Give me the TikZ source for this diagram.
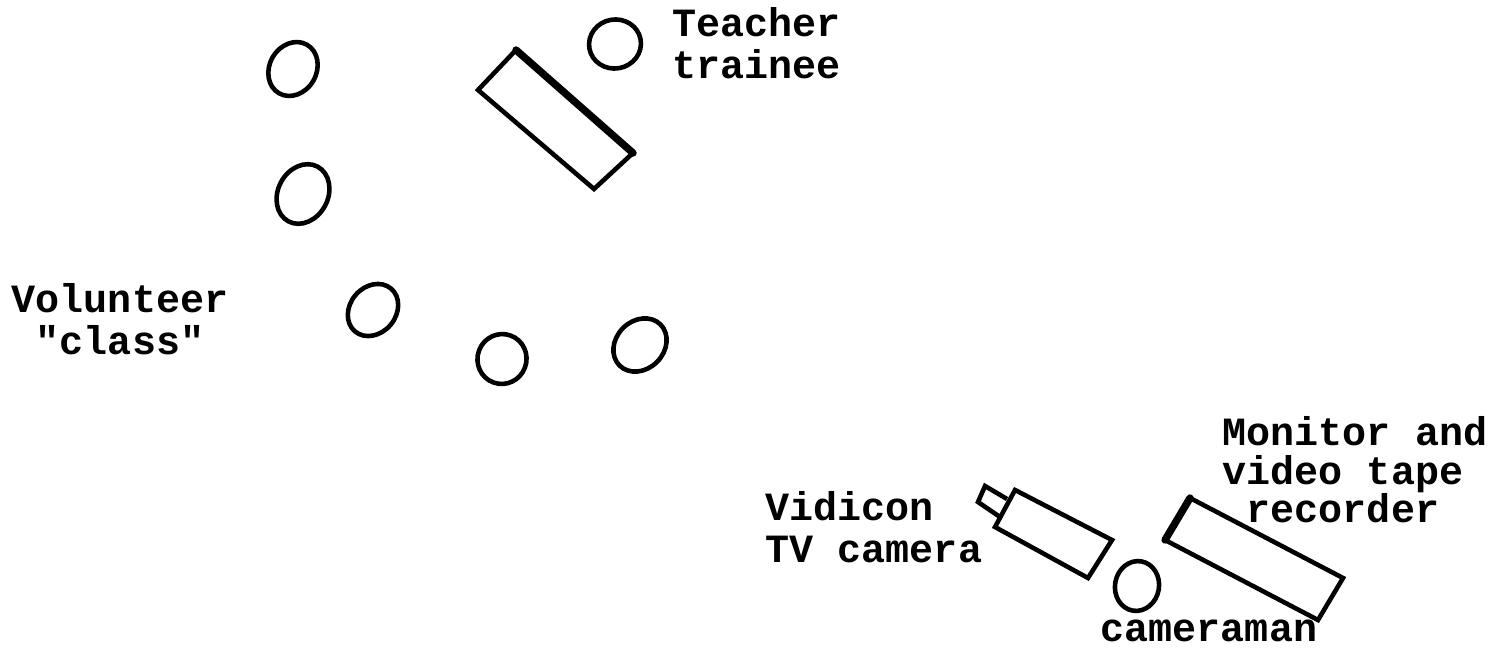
\documentclass[tikz,border=0pt]{standalone}
\usepackage{fontspec}
\setmonofont{Liberation Mono}
\usetikzlibrary{shapes.geometric, positioning}

\begin{document}
\begin{tikzpicture}[
    person/.style={
        draw, ellipse, line width=1.3pt,
        inner sep=0pt,
    },
    furniture/.style={
        draw, line width=1.3pt, line join=miter,
    },
    heavy/.style={
        draw, line width=2.1pt, line cap=round,
    },
    caption/.style={
        font=\fontsize{11.4pt}{11.9pt}\selectfont\ttfamily\bfseries,
        inner sep=0pt,
    },
]
\useasboundingbox (0,0) rectangle (15.02,6.52);

%--- Volunteer class and teacher ---
\node[person, minimum width=0.56cm, minimum height=0.47cm, rotate=60] (pupilA) at (2.93,5.83) {};
\node[person, minimum width=0.62cm, minimum height=0.50cm, rotate=62] (pupilB) at (3.03,4.58) {};
\node[person, minimum width=0.56cm, minimum height=0.46cm, rotate=50] (pupilC) at (3.73,3.42) {};
\node[person, minimum width=0.50cm, minimum height=0.49cm, rotate=70] (pupilD) at (5.02,2.93) {};
\node[person, minimum width=0.58cm, minimum height=0.48cm, rotate=45] (pupilE) at (6.40,3.07) {};
\node[person, minimum width=0.52cm, minimum height=0.49cm, rotate=10] (teacher) at (6.15,6.08) {};

% table in front of the teacher
\draw[furniture] (5.16,6.02) -- (4.78,5.62) -- (5.94,4.63) -- (6.33,4.99) -- cycle;
\draw[heavy] (5.16,6.02) -- (6.33,4.99);

%--- Recording group ---
\node[person, minimum width=0.50cm, minimum height=0.44cm, rotate=80] (cameraman) at (11.37,0.66) {};

% camera body and lens
\draw[furniture] (10.15,1.62) -- (9.95,1.25) -- (10.88,0.74) -- (11.12,1.12) -- cycle;
\draw[furniture] (10.07,1.53) -- (9.85,1.66) -- (9.78,1.50) -- (10.00,1.35);

% monitor
\draw[furniture] (11.90,1.54) -- (11.65,1.12) -- (13.18,0.32) -- (13.43,0.74) -- cycle;
\draw[heavy] (11.90,1.54) -- (11.65,1.12);

%--- Labels ---
\node[caption, align=left, anchor=north west] (teacherText) at (6.72,6.45) {Teacher\\trainee};
\node[caption, align=center] (classText) at (1.20,3.33) {Volunteer\\"class"};
\node[caption, align=left, anchor=north west] (cameraText) at (7.65,1.61) {Vidicon\\TV camera};
\node[caption, align=left, anchor=north west] (monitorText) at (12.22,2.36) {Monitor and\\[-1pt]video tape\\[-1pt]\hspace*{0.6em}recorder};
\node[caption, anchor=north west] (cameramanText) at (11.00,0.33) {cameraman};
\end{tikzpicture}
\end{document}
